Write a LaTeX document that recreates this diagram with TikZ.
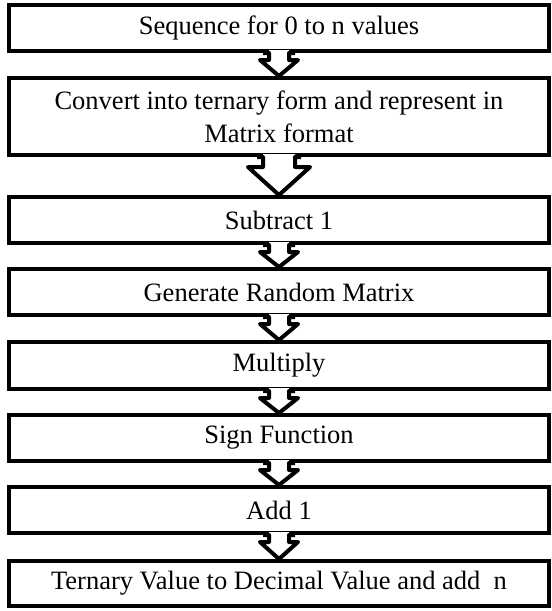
\documentclass[tikz,border=0pt]{standalone}
\usepackage{fontspec}
\setmainfont{Liberation Serif}
\usetikzlibrary{calc}
% block arrow from the bottom of one stage to the top of the next
% #1 upper node, #2 lower node, #3 shaft half width, #4 head half width, #5 shaft length
\newcommand\blockarrow[5]{%
  \fill[white] ($(#1.south)+(-#3,-3)$) -- ($(#1.south)+(-#3,#5)$) -- ($(#1.south)+(-#4,#5)$)
    -- (#2.north) -- ($(#1.south)+(#4,#5)$) -- ($(#1.south)+(#3,#5)$) -- ($(#1.south)+(#3,-3)$) -- cycle;
  \draw[flowline] ($(#1.south)+(-#3-6,0)$) -- ($(#1.south)+(-#3,0)$) -- ($(#1.south)+(-#3,#5)$)
    -- ($(#1.south)+(-#4,#5)$) -- (#2.north) -- ($(#1.south)+(#4,#5)$) -- ($(#1.south)+(#3,#5)$)
    -- ($(#1.south)+(#3,0)$) -- ($(#1.south)+(#3+6,0)$);%
}
\begin{document}
\begin{tikzpicture}[x=1pt,y=-1pt,
  stage/.style={draw=black, line width=4pt, minimum width=540pt, inner sep=0pt,
    align=center, font=\fontsize{26.5}{33}\selectfont},
  flowline/.style={draw=black, line width=4pt, line join=round},
]
\useasboundingbox[fill=white] (0,0) rectangle (552,611);

\node[stage, minimum height=46pt] (s1) at (279,28)  {Sequence for 0 to n values};
\node[stage, minimum height=77pt] (s2) at (279,116.5) {Convert into ternary form and represent in\\Matrix format};
\node[stage, minimum height=46pt] (s3) at (279,220) {Subtract 1};
\node[stage, minimum height=46pt] (s4) at (279,292) {Generate Random Matrix};
\node[stage, minimum height=47pt] (s5) at (279,365.5) {Multiply};
\node[stage, minimum height=46pt] (s6) at (279,438) {Sign Function};
\node[stage, minimum height=46pt] (s7) at (279,510) {Add 1};
\node[stage, minimum height=45pt] (s8) at (279,583.5) {Ternary Value to Decimal Value and add\ \ n};

\blockarrow{s1}{s2}{10}{19}{7}
\blockarrow{s2}{s3}{16}{31}{10}
\blockarrow{s3}{s4}{10}{19}{7}
\blockarrow{s4}{s5}{10}{19}{7}
\blockarrow{s5}{s6}{10}{19}{7}
\blockarrow{s6}{s7}{10}{19}{7}
\blockarrow{s7}{s8}{10}{19}{7}
\end{tikzpicture}
\end{document}
